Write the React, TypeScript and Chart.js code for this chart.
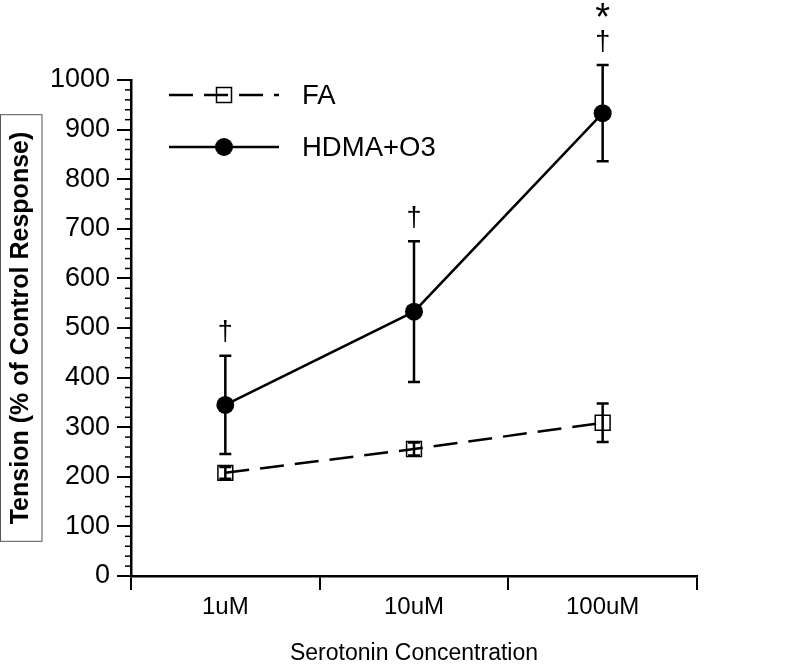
import React, { useEffect, useRef } from 'react';
import { Chart, registerables } from 'chart.js';

Chart.register(...registerables);

const categories = ['1uM', '10uM', '100uM'];
const seriesNames = ['FA', 'HDMA+O3'];
const faValues = [208, 256, 309];
const faErrors = [12, 13, 39];
const hdmaValues = [345, 533, 933];
const hdmaErrors = [99, 142, 97];
const hdmaMarks = [['†'], ['†'], ['†', '*']];
const yMin = 0;
const yMax = 1000;
const yMajorStep = 100;
const yMinorStep = 20;
const yTitle = 'Tension (% of Control Response)';
const xTitle = 'Serotonin Concentration';

const FONT = "'Liberation Sans', Arial, Helvetica, sans-serif";

const errorBarPlugin = {
  id: 'errorBars',
  afterDatasetsDraw(chart: any) {
    const ctx = chart.ctx;
    const y = chart.scales.y;
    const errs = [faErrors, hdmaErrors];
    const vals = [faValues, hdmaValues];
    ctx.save();
    ctx.strokeStyle = '#000';
    ctx.lineWidth = 2.5;
    chart.data.datasets.forEach((_: any, di: number) => {
      const meta = chart.getDatasetMeta(di);
      meta.data.forEach((pt: any, i: number) => {
        const v = vals[di][i];
        const e = errs[di][i];
        const x = pt.x;
        const yt = y.getPixelForValue(v + e);
        const yb = y.getPixelForValue(v - e);
        ctx.beginPath();
        ctx.moveTo(x, yt);
        ctx.lineTo(x, yb);
        ctx.moveTo(x - 6, yt);
        ctx.lineTo(x + 6, yt);
        ctx.moveTo(x - 6, yb);
        ctx.lineTo(x + 6, yb);
        ctx.stroke();
      });
    });
    // significance marks above HDMA error bars
    const meta = chart.getDatasetMeta(1);
    ctx.fillStyle = '#000';
    ctx.textAlign = 'center';
    ctx.textBaseline = 'middle';
    meta.data.forEach((pt: any, i: number) => {
      const top = y.getPixelForValue(hdmaValues[i] + hdmaErrors[i]);
      hdmaMarks[i].forEach((m) => {
        if (m === '*') {
          ctx.font = `38px ${FONT}`;
          ctx.fillText(m, pt.x, top - 46);
        } else {
          ctx.font = `27px ${FONT}`;
          ctx.fillText(m, pt.x, top - 23);
        }
      });
    });
    ctx.restore();
  },
};

const decorPlugin = {
  id: 'decor',
  afterDraw(chart: any) {
    const ctx = chart.ctx;
    const y = chart.scales.y;
    const area = chart.chartArea;
    ctx.save();
    // minor ticks
    ctx.strokeStyle = '#000';
    ctx.lineWidth = 1.5;
    for (let v = yMin; v <= yMax; v += yMinorStep) {
      if (v % yMajorStep === 0) continue;
      const py = y.getPixelForValue(v);
      ctx.beginPath();
      ctx.moveTo(area.left - 6, py);
      ctx.lineTo(area.left, py);
      ctx.stroke();
    }
    // box around y title
    ctx.font = `bold 25px ${FONT}`;
    const w = ctx.measureText(yTitle).width;
    const cy = (area.top + area.bottom) / 2;
    ctx.strokeStyle = '#555';
    ctx.lineWidth = 1;
    ctx.strokeRect(0.5, cy - w / 2 - 17, 41.5, w + 34);

    // legend
    const lx = area.left + 38;
    const ly = area.top + 15;
    const rowGap = 52;
    const ds = chart.data.datasets;
    ds.forEach((d: any, i: number) => {
      const yy = ly + rowGap * i;
      ctx.save();
      ctx.strokeStyle = '#000';
      ctx.lineWidth = 2.5;
      ctx.setLineDash(d.borderDash || []);
      ctx.beginPath();
      ctx.moveTo(lx, yy);
      ctx.lineTo(lx + 110, yy);
      ctx.stroke();
      ctx.setLineDash([]);
      const mx = lx + 55;
      if (d.pointStyle === 'rect') {
        ctx.lineWidth = 1.5;
        ctx.strokeRect(mx - 7.5, yy - 7.5, 15, 15);
      } else {
        ctx.fillStyle = '#000';
        ctx.beginPath();
        ctx.arc(mx, yy, 9, 0, Math.PI * 2);
        ctx.fill();
      }
      ctx.fillStyle = '#000';
      ctx.font = `27.5px ${FONT}`;
      ctx.textAlign = 'left';
      ctx.textBaseline = 'middle';
      ctx.fillText(d.label, lx + 133, yy + 1);
      ctx.restore();
    });
    ctx.restore();
  },
};

export default function App() {
  const ref = useRef<HTMLCanvasElement | null>(null);
  useEffect(() => {
    if (!ref.current) return;
    const chart = new Chart(ref.current, {
      type: 'line',
      data: {
        labels: categories,
        datasets: [
          {
            label: seriesNames[0],
            data: faValues,
            borderColor: '#000',
            borderWidth: 2.5,
            borderDash: [24, 11],
            pointStyle: 'rect',
            pointRadius: 10.5,
            pointBorderWidth: 1.5,
            pointBorderColor: '#000',
            pointBackgroundColor: 'rgba(0,0,0,0)',
            fill: false,
            tension: 0,
          },
          {
            label: seriesNames[1],
            data: hdmaValues,
            borderColor: '#000',
            borderWidth: 2.5,
            pointStyle: 'circle',
            pointRadius: 9,
            pointBorderWidth: 0,
            pointBackgroundColor: '#000',
            fill: false,
            tension: 0,
          },
        ],
      },
      options: {
        responsive: false,
        animation: false,
        layout: { padding: { left: 0, right: 101, top: 80, bottom: 0 } },
        plugins: {
          legend: { display: false },
          tooltip: { enabled: false },
          title: { display: false },
        },
        scales: {
          x: {
            type: 'category',
            offset: true,
            grid: {
              offset: true,
              drawOnChartArea: false,
              drawTicks: true,
              tickLength: 14,
              color: '#000',
              lineWidth: 2,
            },
            border: { display: true, color: '#000', width: 2.5 },
            ticks: {
              color: '#000',
              font: { family: FONT, size: 24 },
              padding: 3,
              maxRotation: 0,
            },
            title: {
              display: true,
              text: xTitle,
              color: '#000',
              font: { family: FONT, size: 23, lineHeight: 1 },
              padding: { top: 0, bottom: 0 },
            },
            afterFit: (s: any) => {
              s.height = 89;
            },
          },
          y: {
            type: 'linear',
            min: yMin,
            max: yMax,
            ticks: {
              stepSize: yMajorStep,
              color: '#000',
              font: { family: FONT, size: 27 },
              padding: 7,
              callback: (v: any) => String(v),
            },
            grid: {
              drawOnChartArea: false,
              drawTicks: true,
              tickLength: 14,
              color: '#000',
              lineWidth: 2,
            },
            border: { display: true, color: '#000', width: 2.5 },
            title: {
              display: true,
              text: yTitle,
              color: '#000',
              font: { family: FONT, size: 25, weight: 'bold', lineHeight: 1.2 },
              padding: { top: 6, bottom: 0 },
            },
            afterFit: (s: any) => {
              s.width = 131;
            },
          },
        },
      },
      plugins: [errorBarPlugin, decorPlugin],
    });
    return () => chart.destroy();
  }, []);
  return (
    <div style={{ position: 'absolute', left: 0, top: 0, width: 798, height: 665, background: '#fff' }}>
      <canvas ref={ref} width={798} height={665} style={{ display: 'block' }} />
    </div>
  );
}
